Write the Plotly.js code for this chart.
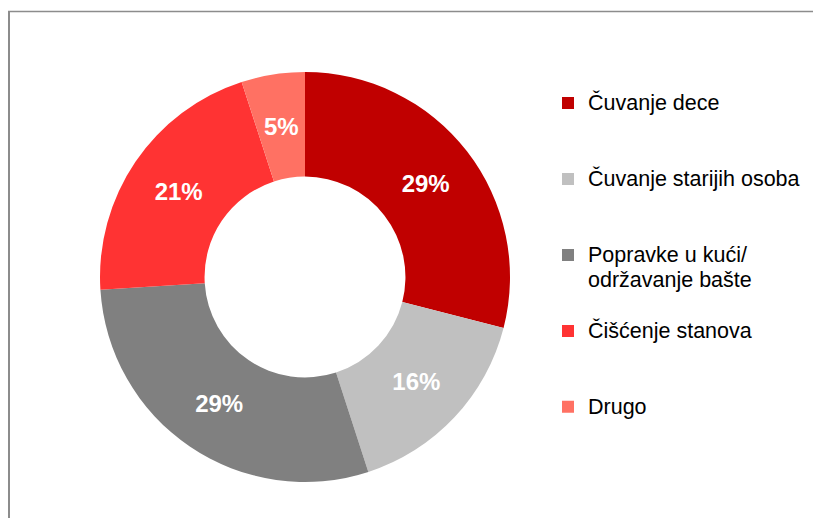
<!DOCTYPE html>
<html>
<head>
<meta charset="utf-8">
<script src="https://cdn.plot.ly/plotly-3.0.1.min.js"></script>
<style>
  html, body { margin: 0; padding: 0; background: #ffffff; }
  #chart { width: 813px; height: 518px; }
</style>
</head>
<body>
<div id="chart"></div>
<script>
// ---- data ----
const categories = [
  "Čuvanje dece",
  "Čuvanje starijih osoba",
  "Popravke u kući/<br>održavanje bašte",
  "Čišćenje stanova",
  "Drugo"
];
const shares = [29, 16, 29, 21, 5];
const sliceColors = ["#C00000", "#C0C0C0", "#808080", "#FF3333", "#FF7163"];

// ---- geometry (page pixels) ----
const W = 813, H = 518;
const pieLeft = 100, pieRight = 510, pieTop = 72, pieBottom = 482;
const holeFrac = 0.49;

// legend text: bigger span, padded with a blank line for even spacing
const legendText = categories.map(c => {
  const lines = c.split("<br>");
  const styled = lines.map(l => '<span style="font-size:21.5px">' + l + '</span>');
  while (styled.length < 3) styled.push("\u00a0");
  return styled.join("<br>");
});

// slices whose label Plotly would push to the rim get their label at mid-ring instead
const total = shares.reduce((a, b) => a + b, 0);
const smallIdx = shares.map((v, i) => (v / total < 0.08 ? i : -1)).filter(i => i >= 0);
const textPositions = shares.map((v, i) => (smallIdx.includes(i) ? "none" : "inside"));

const labelFont = { family: "Liberation Sans, Arial, sans-serif", size: 24, color: "#ffffff", weight: "bold" };

const trace = {
  type: "pie",
  labels: legendText,
  values: shares,
  sort: false,
  direction: "clockwise",
  rotation: 0,
  hole: holeFrac,
  marker: { colors: sliceColors, line: { width: 0 } },
  texttemplate: "%{value}%",
  textposition: textPositions,
  insidetextorientation: "horizontal",
  textfont: labelFont,
  hoverinfo: "none",
  domain: { x: [pieLeft / W, pieRight / W], y: [1 - pieBottom / H, 1 - pieTop / H] }
};

// mid-ring annotation positions computed from the data
const cx = (pieLeft + pieRight) / 2, cy = (pieTop + pieBottom) / 2;
const rOut = Math.min(pieRight - pieLeft, pieBottom - pieTop) / 2;
const rMid = rOut * (1 + holeFrac) / 2;
const annotations = smallIdx.map(i => {
  const before = shares.slice(0, i).reduce((a, b) => a + b, 0);
  const theta = 2 * Math.PI * (before + shares[i] / 2) / total;
  return {
    xref: "paper", yref: "paper",
    x: (cx + rMid * Math.sin(theta)) / W,
    y: 1 - (cy - rMid * Math.cos(theta)) / H,
    text: shares[i] + "%",
    showarrow: false,
    font: labelFont,
    xanchor: "center", yanchor: "middle"
  };
});

const layout = {
  width: W,
  height: H,
  margin: { l: 0, r: 0, t: 0, b: 0 },
  paper_bgcolor: "#ffffff",
  showlegend: true,
  legend: {
    x: 548 / W,
    xanchor: "left",
    y: 0.837,
    yanchor: "top",
    valign: "top",
    font: { family: "Liberation Sans, Arial, sans-serif", size: 18.7, color: "#000000" },
    bgcolor: "rgba(0,0,0,0)",
    borderwidth: 0
  },
  annotations: annotations,
  shapes: [
    { type: "line", xref: "paper", yref: "paper", x0: 9 / W, x1: 9 / W, y0: 0, y1: 1 - 11 / H, line: { color: "#8c8c8c", width: 2 } },
    { type: "line", xref: "paper", yref: "paper", x0: 8 / W, x1: 1, y0: 1 - 11.5 / H, y1: 1 - 11.5 / H, line: { color: "#8c8c8c", width: 1.5 } }
  ]
};

Plotly.newPlot("chart", [trace], layout, { displayModeBar: false, staticPlot: true });
</script>
</body>
</html>
